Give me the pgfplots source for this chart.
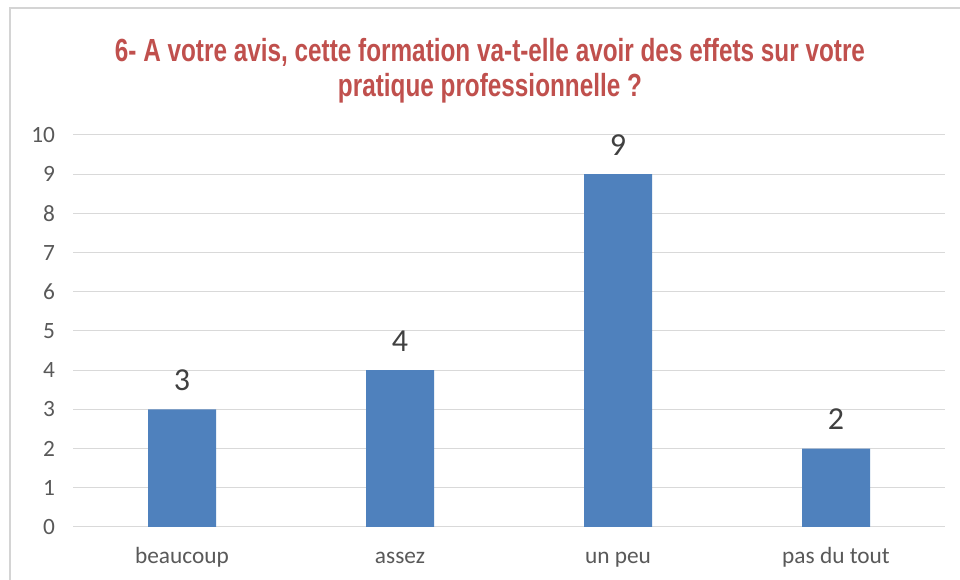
\documentclass[border=0pt]{standalone}
\usepackage{fontspec}
\setmainfont{Carlito}
\newfontfamily\titlefont[FakeStretch=0.76]{Liberation Sans}
\usepackage{pgfplots}
\pgfplotsset{compat=1.18}

\definecolor{barblue}{HTML}{4F81BD}
\definecolor{titlered}{HTML}{C0504D}
\definecolor{gridgray}{HTML}{D9D9D9}
\definecolor{ticktext}{HTML}{595959}
\definecolor{labeltext}{HTML}{404040}
\definecolor{framegray}{HTML}{D4D4D4}

\begin{document}
% 1 px of the reference = 0.75pt
\begin{tikzpicture}
\useasboundingbox (0pt,0pt) rectangle (720pt,435pt);
\fill[white] (0pt,0pt) rectangle (720pt,435pt);
\draw[framegray, line width=1.5pt] (7.5pt,-10pt) -- (7.5pt,429pt) -- (730pt,429pt);

\begin{axis}[
  at={(54.75pt,39.75pt)}, anchor=south west,
  scale only axis, width=654pt, height=294pt,
  ybar, bar width=51pt,
  xmin=-0.5, xmax=3.5,
  ymin=0, ymax=10,
  xtick={0,1,2,3},
  xticklabels={beaucoup, assez, un peu, pas du tout},
  ytick={0,1,...,10},
  ymajorgrids, grid style={gridgray, line width=0.75pt},
  axis x line*=bottom, axis y line*=left,
  x axis line style={gridgray, line width=0.75pt, -},
  y axis line style={draw=none},
  major tick length=0pt,
  tick label style={font=\fontsize{17.5}{20}\selectfont, text=ticktext},
  xticklabel style={text height=12pt, text depth=3.5pt, yshift=-12pt},
  yticklabel style={xshift=-10pt},
  /pgf/number format/assume math mode=true,
  nodes near coords,
  nodes near coords style={font=\fontsize{24}{26}\selectfont, text=labeltext, yshift=10.5pt},
  clip=false,
]
\addplot[fill=barblue, draw=none] coordinates {(0,3) (1,4) (2,9) (3,2)};
\end{axis}

\node[anchor=north, align=center, text=titlered,
  font=\titlefont\bfseries\fontsize{24}{26.5}\selectfont]
  at (367.5pt,410pt) {6- A votre avis, cette formation va-t-elle avoir des effets sur votre\\
  pratique professionnelle ?};
\end{tikzpicture}
\end{document}
